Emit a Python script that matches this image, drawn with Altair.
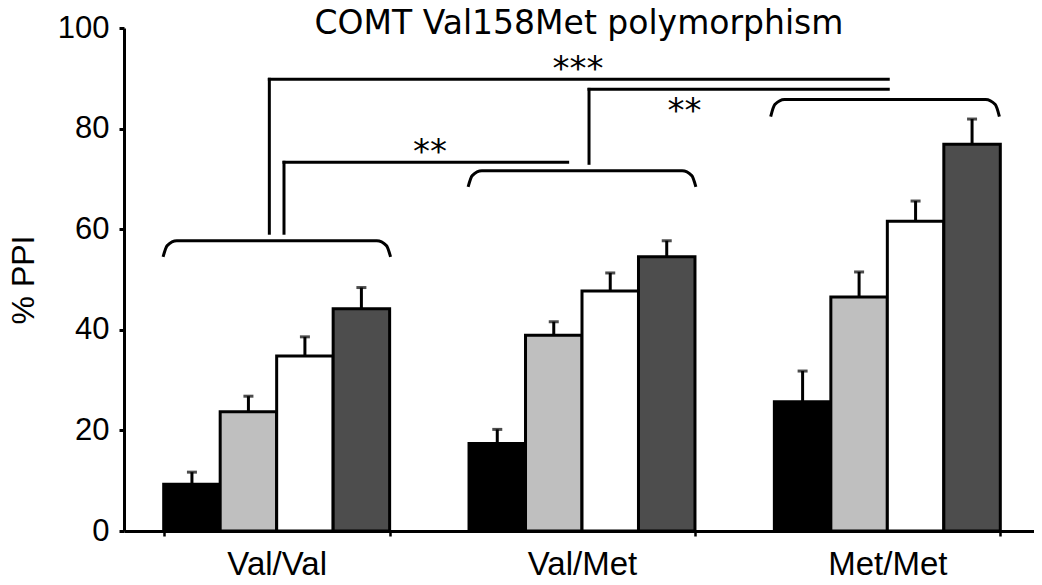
import altair as alt
import pandas as pd

# ---- data ----
genotypes = ["Val/Val", "Val/Met", "Met/Met"]
conditions = ["Cond 1", "Cond 2", "Cond 3", "Cond 4"]
fills = ["#000000", "#bfbfbf", "#ffffff", "#4d4d4d"]

mean_valval = [9.3, 23.7, 34.8, 44.2]
mean_valmet = [17.4, 38.9, 47.7, 54.5]
mean_metmet = [25.7, 46.5, 61.6, 76.9]
sem_valval = [2.4, 3.1, 3.8, 4.2]
sem_valmet = [2.8, 2.7, 3.6, 3.2]
sem_metmet = [6.1, 5.0, 4.0, 5.0]

# significance annotations (x in genotype-group units: group i spans [i, i+1])
bracket_left = [0.128, 1.127, 2.118]
bracket_right = [0.873, 1.873, 2.867]
bracket_top = [57.7, 71.6, 85.8]
bracket_end = [54.5, 68.4, 82.4]
curl_width = 0.045           # horizontal reach of each bracket curl
curl_mid = (0.3, 0.7)        # intermediate curl point (fraction of width, fraction of rise)

seg_x = [0.476, 0.476, 0.524, 0.524, 1.523, 1.523]
seg_x2 = [0.476, 2.503, 0.524, 1.453, 2.503, 1.523]
seg_y = [59.2, 89.8, 59.2, 73.3, 87.8, 73.1]
seg_y2 = [89.8, 89.8, 73.3, 73.3, 87.8, 87.8]

star_text = ["**", "***", "**"]
star_x = [1.002, 1.487, 1.836]
star_y = [76.7, 93.3, 84.8]

# ---- tables ----
rows = []
for g, means, sems in zip(genotypes, [mean_valval, mean_valmet, mean_metmet],
                          [sem_valval, sem_valmet, sem_metmet]):
    for c, m, s in zip(conditions, means, sems):
        rows.append({"genotype": g, "condition": c, "mean": m, "sem": s})
df = pd.DataFrame(rows)

brows = []
for i in range(len(bracket_left)):
    xl, xr, t, e = bracket_left[i], bracket_right[i], bracket_top[i], bracket_end[i]
    w, h = curl_width, t - e
    fx, fy = curl_mid
    pts = [(xl, e), (xl + fx * w, e + fy * h), (xl + w, t),
           (xr - w, t), (xr - fx * w, e + fy * h), (xr, e)]
    for k, (px, py) in enumerate(pts):
        brows.append({"b": i, "k": k, "u": px, "v": py})
bdf = pd.DataFrame(brows)

sdf = pd.DataFrame({"u": seg_x, "u2": seg_x2, "v": seg_y, "v2": seg_y2})
tdf = pd.DataFrame({"u": star_x, "v": star_y, "t": star_text})

FONT = "Liberation Sans"
XRANGE = [0, 916]
yscale = alt.Scale(domain=[0, 100], nice=False, zero=True)
xband = alt.Scale(domain=genotypes, paddingInner=0.26, paddingOuter=0.13, range=XRANGE)
offscale = alt.Scale(domain=conditions, paddingInner=0, paddingOuter=0)

x_axis = alt.Axis(title=None, labelAngle=0, labelFont=FONT, labelFontSize=33,
                  labelColor="black", tickBand="extent", tickSize=5, tickWidth=2.5,
                  tickColor="black", domainColor="black", domainWidth=3,
                  labelPadding=12)
y_axis = alt.Axis(title="% PPI", values=[0, 20, 40, 60, 80, 100], grid=False,
                  labelFont=FONT, labelFontSize=31, labelColor="black",
                  labelPadding=10, tickSize=5, tickWidth=3, tickColor="black",
                  domainColor="black", domainWidth=3, titleFont=FONT,
                  titleFontSize=32, titleFontWeight="normal", titleColor="black",
                  titlePadding=17)

bars = alt.Chart(df).mark_bar(stroke="black", strokeWidth=3).encode(
    x=alt.X("genotype:N", sort=genotypes, scale=xband, axis=x_axis),
    xOffset=alt.XOffset("condition:N", sort=conditions, scale=offscale),
    y=alt.Y("mean:Q", scale=yscale, axis=y_axis),
    fill=alt.Fill("condition:N", scale=alt.Scale(domain=conditions, range=fills), legend=None),
)

err = alt.Chart(df).transform_calculate(top="datum.mean + datum.sem").mark_rule(
    color="black", strokeWidth=3).encode(
    x=alt.X("genotype:N", sort=genotypes, scale=xband, axis=x_axis),
    xOffset=alt.XOffset("condition:N", sort=conditions, scale=offscale),
    y=alt.Y("mean:Q", scale=yscale, axis=y_axis),
    y2="top:Q",
)

caps = alt.Chart(df).transform_calculate(top="datum.mean + datum.sem").mark_tick(
    color="black", thickness=3, size=10).encode(
    x=alt.X("genotype:N", sort=genotypes, scale=xband, axis=x_axis),
    xOffset=alt.XOffset("condition:N", sort=conditions, scale=offscale),
    y=alt.Y("top:Q", scale=yscale, axis=y_axis),
)

data_layer = alt.layer(bars, err, caps)

uscale = alt.Scale(domain=[0, 3], nice=False, zero=False, range=XRANGE)

brackets = alt.Chart(bdf).mark_line(color="black", strokeWidth=3, interpolate="monotone").encode(
    x=alt.X("u:Q", scale=uscale, axis=None),
    y=alt.Y("v:Q", scale=yscale, axis=y_axis),
    detail="b:N",
    order="k:Q",
)

segs = alt.Chart(sdf).mark_rule(color="black", strokeWidth=3, strokeCap="square").encode(
    x=alt.X("u:Q", scale=uscale, axis=None),
    x2="u2:Q",
    y=alt.Y("v:Q", scale=yscale, axis=y_axis),
    y2="v2:Q",
)

stars = alt.Chart(tdf).mark_text(font="DejaVu Sans", fontSize=34, color="black",
                                 baseline="middle", align="center", dy=8).encode(
    x=alt.X("u:Q", scale=uscale, axis=None),
    y=alt.Y("v:Q", scale=yscale, axis=y_axis),
    text="t:N",
)

annot_layer = alt.layer(brackets, segs, stars)

chart = alt.layer(data_layer, annot_layer).resolve_scale(x="independent").properties(
    width=910,
    height=503,
    autosize=alt.AutoSizeParams(type="none"),
    padding={"left": 116, "top": 20, "right": 0, "bottom": 52},
    title=alt.TitleParams("COMT Val158Met polymorphism", font="DejaVu Sans", fontSize=33,
                          fontWeight="normal", color="black", anchor="middle",
                          frame="group", baseline="alphabetic", offset=-37, dy=18),
).configure_view(stroke=None)

chart.save("out.html", embed_options={"renderer": "svg", "actions": False})
